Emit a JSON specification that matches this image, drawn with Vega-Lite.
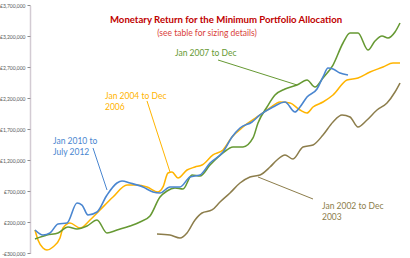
{
  "$schema": "https://vega.github.io/schema/vega-lite/v6.json",
  "width": 372,
  "height": 248,
  "autosize": {"type": "none"},
  "padding": {"left": 30, "top": 5, "right": 8, "bottom": 5},
  "background": "white",
  "config": {"view": {"stroke": null}, "font": "Lato"},
  "datasets": {
    "series": [
      {"series": "Jan 2002 to Dec 2003", "t": 127, "value": 6000},
      {"series": "Jan 2002 to Dec 2003", "t": 140, "value": -10000},
      {"series": "Jan 2002 to Dec 2003", "t": 150, "value": -58000},
      {"series": "Jan 2002 to Dec 2003", "t": 157, "value": 23000},
      {"series": "Jan 2002 to Dec 2003", "t": 165, "value": 232000},
      {"series": "Jan 2002 to Dec 2003", "t": 172, "value": 345000},
      {"series": "Jan 2002 to Dec 2003", "t": 182, "value": 394000},
      {"series": "Jan 2002 to Dec 2003", "t": 190, "value": 523000},
      {"series": "Jan 2002 to Dec 2003", "t": 200, "value": 668000},
      {"series": "Jan 2002 to Dec 2003", "t": 210, "value": 829000},
      {"series": "Jan 2002 to Dec 2003", "t": 220, "value": 926000},
      {"series": "Jan 2002 to Dec 2003", "t": 230, "value": 958000},
      {"series": "Jan 2002 to Dec 2003", "t": 240, "value": 1087000},
      {"series": "Jan 2002 to Dec 2003", "t": 247, "value": 1200000},
      {"series": "Jan 2002 to Dec 2003", "t": 255, "value": 1281000},
      {"series": "Jan 2002 to Dec 2003", "t": 263, "value": 1216000},
      {"series": "Jan 2002 to Dec 2003", "t": 273, "value": 1410000},
      {"series": "Jan 2002 to Dec 2003", "t": 283, "value": 1442000},
      {"series": "Jan 2002 to Dec 2003", "t": 293, "value": 1603000},
      {"series": "Jan 2002 to Dec 2003", "t": 303, "value": 1813000},
      {"series": "Jan 2002 to Dec 2003", "t": 312, "value": 1926000},
      {"series": "Jan 2002 to Dec 2003", "t": 320, "value": 1894000},
      {"series": "Jan 2002 to Dec 2003", "t": 328, "value": 1732000},
      {"series": "Jan 2002 to Dec 2003", "t": 337, "value": 1845000},
      {"series": "Jan 2002 to Dec 2003", "t": 347, "value": 2006000},
      {"series": "Jan 2002 to Dec 2003", "t": 357, "value": 2119000},
      {"series": "Jan 2002 to Dec 2003", "t": 365, "value": 2297000},
      {"series": "Jan 2002 to Dec 2003", "t": 370, "value": 2442000},

      {"series": "Jan 2004 to Dec 2006", "t": 5, "value": 71000},
      {"series": "Jan 2004 to Dec 2006", "t": 8, "value": -90000},
      {"series": "Jan 2004 to Dec 2006", "t": 13, "value": -219000},
      {"series": "Jan 2004 to Dec 2006", "t": 17, "value": -252000},
      {"series": "Jan 2004 to Dec 2006", "t": 23, "value": -203000},
      {"series": "Jan 2004 to Dec 2006", "t": 30, "value": -58000},
      {"series": "Jan 2004 to Dec 2006", "t": 33, "value": 103000},
      {"series": "Jan 2004 to Dec 2006", "t": 40, "value": 184000},
      {"series": "Jan 2004 to Dec 2006", "t": 50, "value": 103000},
      {"series": "Jan 2004 to Dec 2006", "t": 60, "value": 232000},
      {"series": "Jan 2004 to Dec 2006", "t": 70, "value": 394000},
      {"series": "Jan 2004 to Dec 2006", "t": 83, "value": 603000},
      {"series": "Jan 2004 to Dec 2006", "t": 97, "value": 797000},
      {"series": "Jan 2004 to Dec 2006", "t": 107, "value": 797000},
      {"series": "Jan 2004 to Dec 2006", "t": 117, "value": 765000},
      {"series": "Jan 2004 to Dec 2006", "t": 128, "value": 684000},
      {"series": "Jan 2004 to Dec 2006", "t": 133, "value": 765000},
      {"series": "Jan 2004 to Dec 2006", "t": 138, "value": 990000},
      {"series": "Jan 2004 to Dec 2006", "t": 142, "value": 1006000},
      {"series": "Jan 2004 to Dec 2006", "t": 148, "value": 910000},
      {"series": "Jan 2004 to Dec 2006", "t": 157, "value": 1039000},
      {"series": "Jan 2004 to Dec 2006", "t": 165, "value": 1087000},
      {"series": "Jan 2004 to Dec 2006", "t": 172, "value": 1119000},
      {"series": "Jan 2004 to Dec 2006", "t": 183, "value": 1281000},
      {"series": "Jan 2004 to Dec 2006", "t": 193, "value": 1361000},
      {"series": "Jan 2004 to Dec 2006", "t": 202, "value": 1571000},
      {"series": "Jan 2004 to Dec 2006", "t": 213, "value": 1732000},
      {"series": "Jan 2004 to Dec 2006", "t": 227, "value": 1894000},
      {"series": "Jan 2004 to Dec 2006", "t": 240, "value": 2039000},
      {"series": "Jan 2004 to Dec 2006", "t": 250, "value": 2135000},
      {"series": "Jan 2004 to Dec 2006", "t": 260, "value": 2119000},
      {"series": "Jan 2004 to Dec 2006", "t": 270, "value": 2006000},
      {"series": "Jan 2004 to Dec 2006", "t": 277, "value": 1958000},
      {"series": "Jan 2004 to Dec 2006", "t": 283, "value": 2055000},
      {"series": "Jan 2004 to Dec 2006", "t": 293, "value": 2135000},
      {"series": "Jan 2004 to Dec 2006", "t": 303, "value": 2248000},
      {"series": "Jan 2004 to Dec 2006", "t": 317, "value": 2490000},
      {"series": "Jan 2004 to Dec 2006", "t": 328, "value": 2523000},
      {"series": "Jan 2004 to Dec 2006", "t": 340, "value": 2619000},
      {"series": "Jan 2004 to Dec 2006", "t": 353, "value": 2700000},
      {"series": "Jan 2004 to Dec 2006", "t": 363, "value": 2765000},
      {"series": "Jan 2004 to Dec 2006", "t": 370, "value": 2765000},

      {"series": "Jan 2007 to Dec 2012", "t": 5, "value": -74000},
      {"series": "Jan 2007 to Dec 2012", "t": 17, "value": -10000},
      {"series": "Jan 2007 to Dec 2012", "t": 28, "value": 23000},
      {"series": "Jan 2007 to Dec 2012", "t": 38, "value": 119000},
      {"series": "Jan 2007 to Dec 2012", "t": 47, "value": 87000},
      {"series": "Jan 2007 to Dec 2012", "t": 57, "value": 135000},
      {"series": "Jan 2007 to Dec 2012", "t": 67, "value": 232000},
      {"series": "Jan 2007 to Dec 2012", "t": 77, "value": 23000},
      {"series": "Jan 2007 to Dec 2012", "t": 87, "value": 71000},
      {"series": "Jan 2007 to Dec 2012", "t": 100, "value": 135000},
      {"series": "Jan 2007 to Dec 2012", "t": 110, "value": 200000},
      {"series": "Jan 2007 to Dec 2012", "t": 120, "value": 297000},
      {"series": "Jan 2007 to Dec 2012", "t": 130, "value": 603000},
      {"series": "Jan 2007 to Dec 2012", "t": 137, "value": 700000},
      {"series": "Jan 2007 to Dec 2012", "t": 145, "value": 748000},
      {"series": "Jan 2007 to Dec 2012", "t": 153, "value": 732000},
      {"series": "Jan 2007 to Dec 2012", "t": 162, "value": 958000},
      {"series": "Jan 2007 to Dec 2012", "t": 170, "value": 942000},
      {"series": "Jan 2007 to Dec 2012", "t": 180, "value": 1119000},
      {"series": "Jan 2007 to Dec 2012", "t": 193, "value": 1313000},
      {"series": "Jan 2007 to Dec 2012", "t": 203, "value": 1410000},
      {"series": "Jan 2007 to Dec 2012", "t": 213, "value": 1410000},
      {"series": "Jan 2007 to Dec 2012", "t": 223, "value": 1555000},
      {"series": "Jan 2007 to Dec 2012", "t": 228, "value": 1797000},
      {"series": "Jan 2007 to Dec 2012", "t": 237, "value": 2055000},
      {"series": "Jan 2007 to Dec 2012", "t": 245, "value": 2248000},
      {"series": "Jan 2007 to Dec 2012", "t": 255, "value": 2345000},
      {"series": "Jan 2007 to Dec 2012", "t": 267, "value": 2410000},
      {"series": "Jan 2007 to Dec 2012", "t": 277, "value": 2490000},
      {"series": "Jan 2007 to Dec 2012", "t": 285, "value": 2377000},
      {"series": "Jan 2007 to Dec 2012", "t": 293, "value": 2523000},
      {"series": "Jan 2007 to Dec 2012", "t": 303, "value": 2732000},
      {"series": "Jan 2007 to Dec 2012", "t": 313, "value": 3087000},
      {"series": "Jan 2007 to Dec 2012", "t": 320, "value": 3248000},
      {"series": "Jan 2007 to Dec 2012", "t": 328, "value": 3248000},
      {"series": "Jan 2007 to Dec 2012", "t": 338, "value": 2974000},
      {"series": "Jan 2007 to Dec 2012", "t": 345, "value": 3119000},
      {"series": "Jan 2007 to Dec 2012", "t": 352, "value": 3200000},
      {"series": "Jan 2007 to Dec 2012", "t": 358, "value": 3168000},
      {"series": "Jan 2007 to Dec 2012", "t": 365, "value": 3265000},
      {"series": "Jan 2007 to Dec 2012", "t": 370, "value": 3410000},

      {"series": "Jan 2010 to July 2012", "t": 5, "value": 71000},
      {"series": "Jan 2010 to July 2012", "t": 13, "value": -10000},
      {"series": "Jan 2010 to July 2012", "t": 20, "value": 23000},
      {"series": "Jan 2010 to July 2012", "t": 28, "value": 168000},
      {"series": "Jan 2010 to July 2012", "t": 37, "value": 184000},
      {"series": "Jan 2010 to July 2012", "t": 47, "value": 506000},
      {"series": "Jan 2010 to July 2012", "t": 52, "value": 474000},
      {"series": "Jan 2010 to July 2012", "t": 58, "value": 313000},
      {"series": "Jan 2010 to July 2012", "t": 67, "value": 361000},
      {"series": "Jan 2010 to July 2012", "t": 77, "value": 635000},
      {"series": "Jan 2010 to July 2012", "t": 87, "value": 829000},
      {"series": "Jan 2010 to July 2012", "t": 92, "value": 861000},
      {"series": "Jan 2010 to July 2012", "t": 100, "value": 829000},
      {"series": "Jan 2010 to July 2012", "t": 113, "value": 765000},
      {"series": "Jan 2010 to July 2012", "t": 123, "value": 684000},
      {"series": "Jan 2010 to July 2012", "t": 130, "value": 668000},
      {"series": "Jan 2010 to July 2012", "t": 140, "value": 765000},
      {"series": "Jan 2010 to July 2012", "t": 150, "value": 765000},
      {"series": "Jan 2010 to July 2012", "t": 160, "value": 926000},
      {"series": "Jan 2010 to July 2012", "t": 170, "value": 958000},
      {"series": "Jan 2010 to July 2012", "t": 180, "value": 1152000},
      {"series": "Jan 2010 to July 2012", "t": 193, "value": 1329000},
      {"series": "Jan 2010 to July 2012", "t": 202, "value": 1571000},
      {"series": "Jan 2010 to July 2012", "t": 210, "value": 1716000},
      {"series": "Jan 2010 to July 2012", "t": 222, "value": 1813000},
      {"series": "Jan 2010 to July 2012", "t": 230, "value": 1926000},
      {"series": "Jan 2010 to July 2012", "t": 243, "value": 2055000},
      {"series": "Jan 2010 to July 2012", "t": 255, "value": 2135000},
      {"series": "Jan 2010 to July 2012", "t": 265, "value": 1974000},
      {"series": "Jan 2010 to July 2012", "t": 270, "value": 2055000},
      {"series": "Jan 2010 to July 2012", "t": 277, "value": 2216000},
      {"series": "Jan 2010 to July 2012", "t": 287, "value": 2345000},
      {"series": "Jan 2010 to July 2012", "t": 293, "value": 2539000},
      {"series": "Jan 2010 to July 2012", "t": 298, "value": 2684000},
      {"series": "Jan 2010 to July 2012", "t": 303, "value": 2668000},
      {"series": "Jan 2010 to July 2012", "t": 310, "value": 2603000},
      {"series": "Jan 2010 to July 2012", "t": 318, "value": 2571000}
    ],
    "leaders": [
      {"series": "Jan 2010 to July 2012", "t": 63, "value": 1394000, "t2": 77, "value2": 716000},
      {"series": "Jan 2004 to Dec 2006", "t": 117, "value": 2152000, "t2": 140, "value2": 1006000},
      {"series": "Jan 2007 to Dec 2012", "t": 188, "value": 2813000, "t2": 267, "value2": 2410000},
      {"series": "Jan 2002 to Dec 2003", "t": 228, "value": 926000, "t2": 283, "value2": 571000}
    ],
    "notes": [
      {"series": "Jan 2010 to July 2012", "t": 23, "value": 1506000, "label": "Jan 2010 to"},
      {"series": "Jan 2010 to July 2012", "t": 23, "value": 1329000, "label": "July 2012"},
      {"series": "Jan 2004 to Dec 2006", "t": 75, "value": 2232000, "label": "Jan 2004 to Dec"},
      {"series": "Jan 2004 to Dec 2006", "t": 75, "value": 2055000, "label": "2006"},
      {"series": "Jan 2007 to Dec 2012", "t": 145, "value": 2926000, "label": "Jan 2007 to Dec"},
      {"series": "Jan 2002 to Dec 2003", "t": 292, "value": 458000, "label": "Jan 2002 to Dec"},
      {"series": "Jan 2002 to Dec 2003", "t": 292, "value": 281000, "label": "2003"}
    ],
    "title": [
      {"t": 196, "value": 3458000, "label": "Monetary Return for the Minimum Portfolio Allocation"}
    ],
    "subtitle": [
      {"t": 177, "value": 3248000, "label": "(see table for sizing details)"}
    ]
  },
  "layer": [
    {
      "data": {"name": "series"},
      "mark": {"type": "line", "interpolate": "monotone"},
      "encoding": {
        "x": {"field": "t", "type": "quantitative", "scale": {"domain": [0, 372], "nice": false, "zero": false}, "axis": null},
        "y": {
          "field": "value", "type": "quantitative",
          "scale": {"domain": [-300000, 3700000], "nice": false, "zero": false},
          "axis": {
            "title": null, "grid": false,
            "values": [-300000, 200000, 700000, 1200000, 1700000, 2200000, 2700000, 3200000, 3700000],
            "tickCount": 20,
            "labelExpr": "datum.value < 0 ? '-£' + format(-datum.value, ',') : '£' + format(datum.value, ',')",
            "labelOverlap": false, "labelBound": false, "labelFlush": false,
            "labelFontSize": 5, "labelColor": "#595959", "labelPadding": 2,
            "tickColor": "#8c8c8c", "tickSize": 3,
            "domainColor": "#a898a8", "domainDash": [1, 1], "domainWidth": 1.5
          }
        },
        "color": {
          "field": "series", "type": "nominal", "legend": null,
          "scale": {
            "domain": ["Jan 2002 to Dec 2003", "Jan 2004 to Dec 2006", "Jan 2007 to Dec 2012", "Jan 2010 to July 2012"],
            "range": ["#8C7D4B", "#FFB400", "#669933", "#4A86D0"]
          }
        },
        "strokeWidth": {
          "field": "series", "type": "nominal", "legend": null,
          "scale": {
            "domain": ["Jan 2002 to Dec 2003", "Jan 2004 to Dec 2006", "Jan 2007 to Dec 2012", "Jan 2010 to July 2012"],
            "range": [1.5, 1.6, 1.6, 2.6]
          }
        }
      }
    },
    {
      "data": {"name": "leaders"},
      "mark": {"type": "rule", "strokeWidth": 1},
      "encoding": {
        "x": {"field": "t", "type": "quantitative"},
        "y": {"field": "value", "type": "quantitative"},
        "x2": {"field": "t2"},
        "y2": {"field": "value2"},
        "color": {"field": "series", "type": "nominal", "legend": null}
      }
    },
    {
      "data": {"name": "notes"},
      "mark": {"type": "text", "align": "left", "baseline": "middle", "fontSize": 8.5},
      "encoding": {
        "x": {"field": "t", "type": "quantitative"},
        "y": {"field": "value", "type": "quantitative"},
        "text": {"field": "label"},
        "color": {"field": "series", "type": "nominal", "legend": null}
      }
    },
    {
      "data": {"name": "title"},
      "mark": {"type": "text", "align": "center", "baseline": "middle", "fontSize": 9.6, "fontWeight": "bold", "color": "#C00000"},
      "encoding": {
        "x": {"field": "t", "type": "quantitative"},
        "y": {"field": "value", "type": "quantitative"},
        "text": {"field": "label"}
      }
    },
    {
      "data": {"name": "subtitle"},
      "mark": {"type": "text", "align": "center", "baseline": "middle", "fontSize": 8.5, "color": "#D9403A"},
      "encoding": {
        "x": {"field": "t", "type": "quantitative"},
        "y": {"field": "value", "type": "quantitative"},
        "text": {"field": "label"}
      }
    }
  ]
}
